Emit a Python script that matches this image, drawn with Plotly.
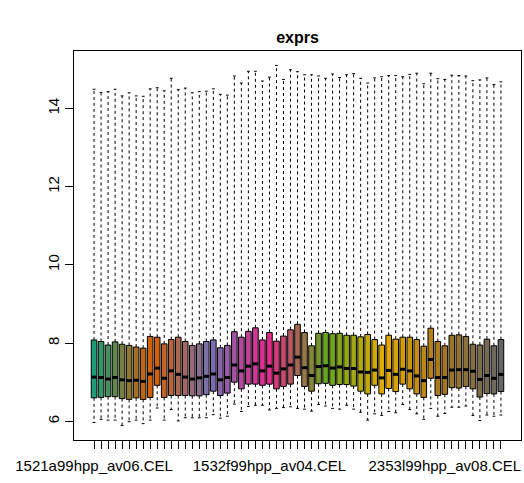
import plotly.graph_objects as go

# Per-array expression summaries (log2 scale), one entry per CEL file
upper_whisker = [14.49, 14.41, 14.43, 14.49, 14.32, 14.40, 14.32, 14.31, 14.50, 14.53,
                 14.45, 14.77, 14.48, 14.52, 14.40, 14.43, 14.44, 14.50, 14.36, 14.34,
                 14.83, 14.65, 14.95, 14.95, 14.70, 14.80, 15.10, 14.74, 14.99, 14.94,
                 14.86, 14.86, 14.83, 14.77, 14.88, 14.79, 14.86, 14.89, 14.77, 14.65,
                 14.78, 14.81, 14.84, 14.84, 14.81, 14.87, 14.90, 14.63, 14.90, 14.76,
                 14.74, 14.85, 14.84, 14.83, 14.71, 14.73, 14.78, 14.61, 14.68]
q3 = [8.08, 8.04, 7.95, 8.03, 7.97, 7.94, 7.90, 7.87, 8.17, 8.15,
      7.98, 8.09, 8.15, 8.04, 7.94, 7.98, 8.04, 8.08, 7.88, 7.94,
      8.29, 8.15, 8.30, 8.39, 8.08, 8.27, 8.05, 8.18, 8.34, 8.48,
      8.27, 7.93, 8.25, 8.27, 8.24, 8.25, 8.20, 8.20, 8.16, 8.22,
      8.09, 7.95, 8.20, 8.10, 8.15, 8.15, 8.09, 7.92, 8.38, 8.04,
      7.93, 8.20, 8.21, 8.17, 7.97, 7.95, 8.10, 7.93, 8.09]
median = [7.13, 7.12, 7.08, 7.12, 7.06, 7.04, 7.05, 7.02, 7.21, 7.36,
          7.10, 7.29, 7.20, 7.13, 7.08, 7.11, 7.15, 7.21, 7.06, 7.12,
          7.44, 7.29, 7.41, 7.47, 7.29, 7.41, 7.23, 7.34, 7.44, 7.64,
          7.37, 7.17, 7.40, 7.42, 7.36, 7.39, 7.35, 7.35, 7.26, 7.25,
          7.31, 7.11, 7.30, 7.20, 7.33, 7.29, 7.16, 7.04, 7.58, 7.12,
          7.12, 7.31, 7.32, 7.32, 7.28, 7.07, 7.17, 7.10, 7.20]
q1 = [6.60, 6.61, 6.63, 6.63, 6.58, 6.56, 6.60, 6.56, 6.61, 6.92,
      6.61, 6.66, 6.66, 6.66, 6.65, 6.65, 6.68, 6.77, 6.66, 6.72,
      7.00, 6.83, 6.95, 6.95, 6.92, 6.95, 6.83, 6.89, 6.95, 7.17,
      6.89, 6.77, 6.96, 6.97, 6.92, 6.94, 6.94, 6.90, 6.77, 6.70,
      6.92, 6.70, 6.84, 6.76, 6.95, 6.83, 6.70, 6.61, 7.10, 6.66,
      6.69, 6.86, 6.85, 6.89, 6.83, 6.62, 6.71, 6.70, 6.76]
lower_whisker = [5.97, 6.05, 6.03, 6.03, 5.89, 5.99, 6.03, 5.94, 6.03, 6.34,
                 6.03, 6.30, 6.01, 6.09, 6.09, 6.09, 6.09, 6.17, 6.08, 6.13,
                 6.44, 6.25, 6.38, 6.41, 6.41, 6.29, 6.33, 6.35, 6.37, 6.33,
                 6.31, 6.26, 6.43, 6.39, 6.33, 6.31, 6.41, 6.31, 6.23, 6.03,
                 6.19, 6.15, 6.25, 6.22, 6.43, 6.30, 6.19, 6.05, 6.33, 6.13,
                 6.20, 6.36, 6.36, 6.39, 6.15, 6.02, 6.16, 6.13, 6.16]

# Sample names that fit along the axis (others are suppressed to avoid overlap)
shown_names = {1: "1521a99hpp_av06.CEL", 26: "1532f99hpp_av04.CEL", 51: "2353l99hpp_av08.CEL"}
y_ticks = [6, 8, 10, 12, 14]

# Dark2 anchors, linearly ramped across all arrays
dark2 = ["#1B9E77", "#D95F02", "#7570B3", "#E7298A", "#66A61E", "#E6AB02", "#A6761D", "#666666"]


def ramp(anchors, n):
    rgb = [tuple(int(c[i:i + 2], 16) for i in (1, 3, 5)) for c in anchors]
    out = []
    for k in range(n):
        t = k / (n - 1) * (len(rgb) - 1)
        j = min(int(t), len(rgb) - 2)
        f = t - j
        a, b = rgb[j], rgb[j + 1]
        out.append("rgb(%d,%d,%d)" % tuple(round(a[m] + (b[m] - a[m]) * f) for m in range(3)))
    return out


n = len(median)
pos = list(range(1, n + 1))
colors = ramp(dark2, n)
half_box = 0.4
half_staple = 0.2

fig = go.Figure()

# Dashed whiskers from the hinges out to the extremes
wx, wy = [], []
for i in range(n):
    wx += [pos[i], pos[i], None, pos[i], pos[i], None]
    wy += [q3[i], upper_whisker[i], None, q1[i], lower_whisker[i], None]
fig.add_trace(go.Scatter(x=wx, y=wy, mode="lines", hoverinfo="skip",
                         line=dict(color="black", width=1, dash="3px,3px")))

# Staples at whisker ends
sx, sy = [], []
for i in range(n):
    for v in (upper_whisker[i], lower_whisker[i]):
        sx += [pos[i] - half_staple, pos[i] + half_staple, None]
        sy += [v, v, None]
fig.add_trace(go.Scatter(x=sx, y=sy, mode="lines", hoverinfo="skip",
                         line=dict(color="black", width=1)))

# Boxes spanning the interquartile range
fig.add_trace(go.Bar(x=pos, base=q1, y=[q3[i] - q1[i] for i in range(n)],
                     width=2 * half_box,
                     marker=dict(color=colors, line=dict(color="black", width=1))))

# Medians
mx, my = [], []
for i in range(n):
    mx += [pos[i] - half_box, pos[i] + half_box, None]
    my += [median[i], median[i], None]
fig.add_trace(go.Scatter(x=mx, y=my, mode="lines", hoverinfo="skip",
                         line=dict(color="black", width=3)))

lo, hi = min(lower_whisker), max(upper_whisker)
pad = 0.04 * (hi - lo)
xpad = 0.04 * n

font = dict(family="Liberation Sans, Arial, sans-serif", size=15, color="black")

fig.update_layout(
    width=524, height=483,
    margin=dict(l=74, r=3, t=51, b=43),
    paper_bgcolor="white", plot_bgcolor="white",
    showlegend=False,
    font=font,
    title=dict(text="<b>exprs</b>", x=0.5 * (74 + 521) / 524, xanchor="center",
               y=1 - 37 / 483, yanchor="middle",
               font=dict(family="Liberation Sans, Arial, sans-serif", size=16, color="black")),
    xaxis=dict(range=[0.5 - xpad, n + 0.5 + xpad], tickmode="array", tickvals=pos,
               ticktext=[shown_names.get(p, "") for p in pos], tickangle=0,
               ticks="outside", ticklen=8, tickcolor="black", tickwidth=1,
               ticklabelstandoff=4,
               showline=True, linecolor="black", linewidth=1, mirror=True,
               showgrid=False, zeroline=False, tickfont=font),
    yaxis=dict(range=[lo - pad, hi + pad], tickmode="array", tickvals=y_ticks,
               ticks="outside", ticklen=8, tickcolor="black", tickwidth=1, tickangle=-90,
               showline=True, linecolor="black", linewidth=1, mirror=True,
               showgrid=False, zeroline=False, tickfont=font),
)

fig.write_html("out.html")
